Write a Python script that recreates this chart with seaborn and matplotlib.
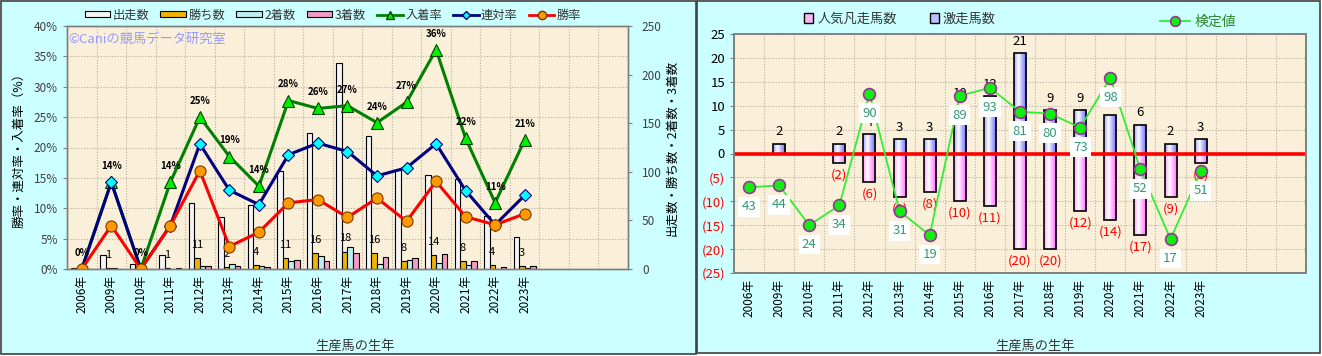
import numpy as np
import pandas as pd
import matplotlib
matplotlib.use('Agg')
import matplotlib.pyplot as plt
import matplotlib.ticker as mticker
from matplotlib.patches import Rectangle, Patch
from matplotlib.lines import Line2D
import seaborn as sns

# ---------------- data ----------------
years = ['2006年', '2009年', '2010年', '2011年', '2012年', '2013年', '2014年', '2015年',
         '2016年', '2017年', '2018年', '2019年', '2020年', '2021年', '2022年', '2023年']

# left chart : counts
starts = [1, 14, 5, 14, 68, 54, 66, 101, 140, 212, 137, 102, 97, 93, 55, 33]
wins = [0, 1, 0, 1, 11, 2, 4, 11, 16, 18, 16, 8, 14, 8, 4, 3]
seconds = [0, 1, 0, 0, 3, 5, 3, 8, 13, 23, 5, 9, 6, 4, 0, 1]
thirds = [0, 0, 0, 1, 3, 3, 2, 9, 8, 16, 12, 11, 15, 8, 2, 3]

# right chart
flop_horses = [0, 0, 0, 2, 6, 9, 8, 10, 11, 20, 20, 12, 14, 17, 9, 2]     # 人気凡走馬数
surge_horses = [0, 2, 0, 2, 4, 3, 3, 10, 12, 21, 9, 9, 8, 6, 2, 3]       # 激走馬数
test_values = [43, 44, 24, 34, 90, 31, 19, 89, 93, 81, 80, 73, 98, 52, 17, 51]  # 検定値

n_slots = 19
W, H = 1322, 356

plt.rcParams['font.family'] = ['Noto Sans CJK JP', 'DejaVu Sans']
plt.rcParams['axes.unicode_minus'] = False

xpos = np.arange(len(years))
st = np.array(starts, dtype=float)
win_rate = np.array(wins) / st * 100
quinella_rate = (np.array(wins) + np.array(seconds)) / st * 100
place_rate = (np.array(wins) + np.array(seconds) + np.array(thirds)) / st * 100

fig = plt.figure(figsize=(W / 100, H / 100), dpi=100)
fig.patch.set_facecolor('white')

def fbox(x0, y0, x1, y1):
    # pixel box (from top-left) -> figure fraction rect
    return [x0 / W, 1 - y1 / H, (x1 - x0) / W, (y1 - y0) / H]

# panel backgrounds
for r in [fbox(1, 1, 696, 354), fbox(697, 1, 1320, 353)]:
    fig.add_artist(Rectangle((r[0], r[1]), r[2], r[3], transform=fig.transFigure,
                             fc='#CCFFFF', ec='#404040', lw=1.2, zorder=-10))

plot_bg = '#FAEFD8'
grid_kw = dict(color='#B8AFA2', linestyle=(0, (1, 1.5)), linewidth=0.8)
frame_c = '#808080'

# ================= LEFT CHART =================
ax = fig.add_axes(fbox(67, 26, 628, 269))
ax.set_facecolor(plot_bg)

series = ['出走数', '勝ち数', '2着数', '3着数']
bar_colors = ['#F4F4F4', '#F0B400', '#BDEEF2', '#F29CC6']
df = pd.DataFrame({'year': years, '出走数': starts, '勝ち数': wins,
                   '2着数': seconds, '3着数': thirds})
df = df.melt('year', var_name='series', value_name='count')
sns.barplot(data=df, x='year', y='count', hue='series', hue_order=series,
            palette=bar_colors, width=0.75, edgecolor='black', linewidth=0.8,
            saturation=1, errorbar=None, legend=False, ax=ax)

ax.set_ylim(0, 250)
ax.bar_label(ax.containers[1], labels=[str(w) if w > 0 else '' for w in wins],
             padding=6, fontsize=8, color='black')

ax2 = ax.twinx()
ax.yaxis.tick_right()
ax.yaxis.set_label_position('right')
ax2.yaxis.tick_left()
ax2.yaxis.set_label_position('left')

sns.lineplot(x=xpos, y=place_rate, ax=ax2, color='#008000', linewidth=2.2,
             marker='^', markersize=9, markerfacecolor='#00EE00', markeredgecolor='#004000',
             markeredgewidth=0.8)
sns.lineplot(x=xpos, y=quinella_rate, ax=ax2, color='#000080', linewidth=2.2,
             marker='D', markersize=6, markerfacecolor='#00FFFF', markeredgecolor='#000080',
             markeredgewidth=0.8)
sns.lineplot(x=xpos, y=win_rate, ax=ax2, color='#FF0000', linewidth=2.2,
             marker='o', markersize=8, markerfacecolor='#FF9900', markeredgecolor='#7A3A00',
             markeredgewidth=0.8)

for i, r in enumerate(place_rate):
    ax2.annotate(f'{r:.0f}%', (i, r), xytext=(0, 8), textcoords='offset points',
                 ha='center', va='bottom', fontsize=7, fontweight='bold')

ax.set_xlim(-0.5, n_slots - 0.5)
ax2.set_ylim(0, 40)
ax.set_yticks(range(0, 251, 50))
ax.set_yticks(np.arange(0, 251, 250 / 8), minor=True)
ax2.set_yticks(range(0, 41, 5))
ax2.yaxis.set_major_formatter(mticker.FuncFormatter(lambda v, p: f'{v:.0f}%'))
ax.set_xticks(np.arange(-0.5, n_slots, 1), minor=True)
ax.set_xticks(xpos)
ax.set_xticklabels(years, rotation=90, fontsize=8.5)
ax.tick_params(axis='x', which='both', length=0, pad=4)
ax.tick_params(axis='y', which='minor', length=0)
ax.tick_params(axis='y', which='major', labelsize=8.5, labelcolor='#404040', color=frame_c,
               length=3, pad=7)
ax2.tick_params(axis='y', labelsize=8.5, labelcolor='#404040', color=frame_c, length=3)
ax.grid(which='minor', **grid_kw)
ax.grid(which='major', visible=False)
ax.set_axisbelow(True)
for a in (ax, ax2):
    for s in a.spines.values():
        s.set_color(frame_c)
        s.set_linewidth(1)

ax.set_xlabel('生産馬の生年', fontsize=9.5, color='#333333')
ax.xaxis.set_label_coords((355 - 67) / 561, (269 - 340) / 243)
ax.set_ylabel('出走数・勝ち数・2着数・3着数', fontsize=9)
ax.yaxis.set_label_coords((665 - 67) / 561, 0.5)
ax2.set_ylabel('勝率・連対率・入着率（%）', fontsize=9)
ax2.yaxis.set_label_coords((25 - 67) / 561, 0.5)

ax.text(0.002, 0.945, '©Caniの競馬データ研究室', transform=ax.transAxes,
        color='#9999FF', fontsize=9.5, va='center', ha='left')

handles = [Patch(fc=c, ec='black', lw=0.8) for c in bar_colors]
handles += [Line2D([], [], color='#008000', lw=2, marker='^', ms=6, mfc='#00EE00', mec='#004000'),
            Line2D([], [], color='#000080', lw=2, marker='D', ms=4.5, mfc='#00FFFF', mec='#000080'),
            Line2D([], [], color='#FF0000', lw=2, marker='o', ms=6, mfc='#FF9900', mec='#7A3A00')]
labels = series + ['入着率', '連対率', '勝率']
fig.legend(handles, labels, loc='center', bbox_to_anchor=(333 / W, 1 - 15 / H), ncol=7,
           frameon=False, fontsize=8.8, handlelength=2.1, handleheight=0.45,
           columnspacing=0.9, handletextpad=0.2, labelcolor='#333333')

# ================= RIGHT CHART =================
axr = fig.add_axes(fbox(734, 34, 1306, 273))
axr.set_facecolor(plot_bg)

dfr = pd.DataFrame({'year': years, 'surge': surge_horses,
                    'flop': [-v for v in flop_horses]})
sns.barplot(data=dfr, x='year', y='surge', color='#B9C0FF', width=0.4, edgecolor='black',
            linewidth=1.2, saturation=1, errorbar=None, ax=axr)
sns.barplot(data=dfr, x='year', y='flop', color='#F8B8F4', width=0.4, edgecolor='black',
            linewidth=1.2, saturation=1, errorbar=None, ax=axr)

def gradient_fill(a, bars, rgb):
    t = np.linspace(0, 1, 64)
    # light strip at about a third of the width, saturated at the edges
    w = np.clip(1 - np.abs(t - 0.35) / 0.65, 0, 1) ** 1.3
    img = np.ones((1, 64, 3))
    for k in range(3):
        img[0, :, k] = rgb[k] + (1 - rgb[k]) * w
    for p in bars:
        h = p.get_height()
        if h == 0 or np.isnan(h):
            continue
        x0, y0 = p.get_x(), p.get_y()
        y_lo, y_hi = min(y0, y0 + h), max(y0, y0 + h)
        im = a.imshow(img, extent=[x0, x0 + p.get_width(), y_lo, y_hi], aspect='auto',
                      origin='lower', interpolation='bilinear', zorder=p.get_zorder() - 0.01)
        im.set_clip_path(p)
        p.set_facecolor('none')

gradient_fill(axr, axr.containers[0], (0.45, 0.45, 1.0))
gradient_fill(axr, axr.containers[1], (1.0, 0.45, 1.0))

axr.set_xlim(-0.5, n_slots - 0.5)
axr.set_ylim(-25, 25)

axr.bar_label(axr.containers[0], labels=[str(v) if v > 0 else '' for v in surge_horses],
              padding=4, fontsize=9.5, color='black')
axr.bar_label(axr.containers[1], labels=[f'({v})' if v > 0 else '' for v in flop_horses],
              padding=4, fontsize=9.5, color='red')

axr.axhline(0, color='#FF0000', lw=2.6, zorder=3)

yt = np.arange(-25, 26, 5)
axr.set_yticks(yt)
axr.set_yticklabels([str(v) if v >= 0 else f'({-v})' for v in yt])
for lbl, v in zip(axr.get_yticklabels(), yt):
    lbl.set_color('red' if v < 0 else 'black')
axr.set_xticks(np.arange(-0.5, n_slots, 1), minor=True)
axr.set_xticks(xpos)
axr.set_xticklabels(years, rotation=90, fontsize=8.5)
axr.tick_params(axis='x', which='both', length=0, pad=4)
axr.tick_params(axis='y', labelsize=9.5, color=frame_c, length=3)
axr.grid(which='minor', axis='x', **grid_kw)
axr.grid(which='major', axis='y', **grid_kw)
axr.grid(which='major', axis='x', visible=False)
axr.set_axisbelow(True)
axr.set_ylabel('')
axr.set_xlabel('生産馬の生年', fontsize=9.5, color='#333333')
axr.xaxis.set_label_coords((1035 - 734) / 572, (273 - 340) / 239)

axr2 = axr.twinx()
sns.lineplot(x=xpos, y=test_values, ax=axr2, color='#33EE33', linewidth=1.3,
             marker='o', markersize=8.5, markerfacecolor='#11EE11', markeredgecolor='#993399',
             markeredgewidth=1.2)
for i, v in enumerate(test_values):
    axr2.annotate(str(v), (i, v), xytext=(0, -14), textcoords='offset points',
                  ha='center', va='center', fontsize=9.5, color='#339977',
                  bbox=dict(boxstyle='square,pad=0.25', fc='white', ec='none'))
axr2.set_ylim(0, 120)
axr2.set_yticks([])
axr2.set_ylabel('')
axr.set_xlim(-0.5, n_slots - 0.5)
for a in (axr, axr2):
    for s in a.spines.values():
        s.set_color(frame_c)
        s.set_linewidth(1.2)

fig.legend([Patch(fc='#F8B8F4', ec='black', lw=1), Patch(fc='#B9C0FF', ec='black', lw=1)],
           ['人気凡走馬数', '激走馬数'], loc='center', bbox_to_anchor=(900 / W, 1 - 19 / H),
           ncol=2, frameon=False, fontsize=9.5, handlelength=0.7, handleheight=0.7,
           columnspacing=2.5, handletextpad=0.3, labelcolor='#333333')
fig.legend([Line2D([], [], color='#33EE33', lw=1.3, marker='o', ms=7, mfc='#11EE11',
                   mec='#993399', mew=1.2)],
           ['検定値'], loc='center', bbox_to_anchor=(1198 / W, 1 - 22 / H), frameon=False,
           fontsize=10, handlelength=2.2, handletextpad=0.3, labelcolor='#2E8B2E')

fig.savefig('out.png', dpi=100)
